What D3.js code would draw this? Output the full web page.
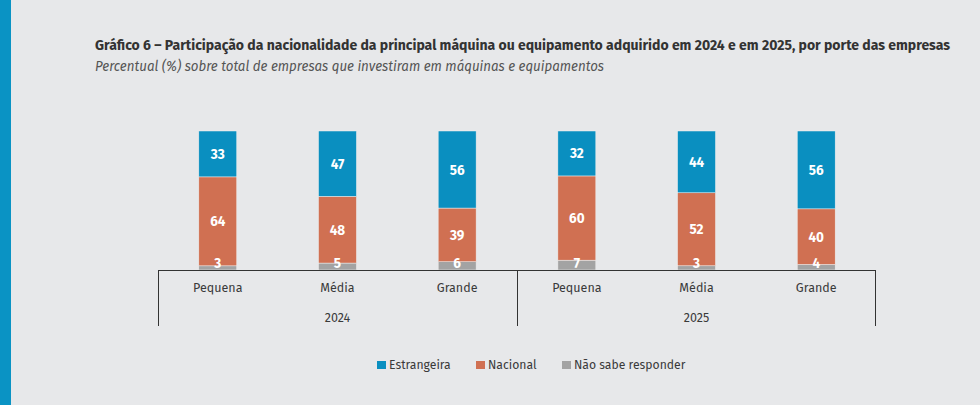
<!DOCTYPE html>
<html lang="pt">
<head>
    <meta charset="UTF-8">
    <title>Gráfico 6</title>
    <script src="https://d3js.org/d3.v7.min.js"></script>
    <style>
        body { margin: 0; background: #e7e8ea; }
        svg { display: block; font-family: "Fira Sans", "Open Sans", sans-serif; }
        .seg-label { fill: white; font-weight: 700; font-size: 13.5px; text-anchor: middle; }
        .cat-label { fill: #3a3a3a; font-size: 12.5px; text-anchor: middle; }
        .legend-label { fill: #3a3a3a; font-size: 12.2px; }
    </style>
</head>
<body>
<svg id="canvas" width="980" height="405"></svg>
<script>
    // data
    let years = ["2024", "2025"];
    let sizes = ["Pequena", "Média", "Grande"];
    let estrangeira = [33, 47, 56, 32, 44, 56];
    let nacional = [64, 48, 39, 60, 52, 40];
    let naoSabe = [3, 5, 6, 7, 3, 4];
    let seriesNames = ["Não sabe responder", "Nacional", "Estrangeira"];
    let colors = {"Estrangeira": "#0a8fc0", "Nacional": "#d07052", "Não sabe responder": "#a3a3a3"};

    let svg = d3.select("#canvas");

    // left accent strip
    svg.append("rect").attr("x", 0).attr("y", 0).attr("width", 11).attr("height", 405).attr("fill", "#0a93c4");

    svg.append("text")
        .attr("x", 95).attr("y", 50)
        .attr("textLength", 855).attr("lengthAdjust", "spacingAndGlyphs")
        .style("font-size", "14px").style("font-weight", 700).style("fill", "#333")
        .text("Gráfico 6 – Participação da nacionalidade da principal máquina ou equipamento adquirido em 2024 e em 2025, por porte das empresas");
    svg.append("text")
        .attr("x", 95).attr("y", 71)
        .attr("textLength", 509).attr("lengthAdjust", "spacingAndGlyphs")
        .style("font-size", "14px").style("font-style", "italic").style("fill", "#555")
        .text("Percentual (%) sobre total de empresas que investiram em máquinas e equipamentos");

    // build rows: one per bar
    let rows = [];
    years.forEach(function (y, yi) {
        sizes.forEach(function (s, si) {
            let i = yi * sizes.length + si;
            rows.push({key: y + "-" + s, year: y, size: s,
                "Estrangeira": estrangeira[i], "Nacional": nacional[i], "Não sabe responder": naoSabe[i]});
        });
    });

    let x = d3.scaleBand().domain(rows.map(d => d.key)).range([158, 876]).paddingInner(0.683).paddingOuter(0.341);
    let y = d3.scaleLinear().domain([0, 1]).range([270, 131]);

    // bars are drawn as share of 100% (values don't always add up exactly)
    let stack = d3.stack().keys(seriesNames).offset(d3.stackOffsetExpand)(rows);

    let g = svg.append("g");
    stack.forEach(function (layer) {
        g.append("g").selectAll("rect")
            .data(layer)
            .enter()
            .append("rect")
            .attr("x", d => x(d.data.key))
            .attr("width", x.bandwidth())
            .attr("y", d => y(d[1]))
            .attr("height", d => y(d[0]) - y(d[1]))
            .attr("fill", colors[layer.key])
            .attr("stroke", "#f0f0f0").attr("stroke-width", 0.5);
    });

    // axis frame
    let axis = svg.append("g").attr("stroke", "#333").attr("stroke-width", 1).attr("fill", "none");
    axis.append("line").attr("x1", 158).attr("x2", 876).attr("y1", 270.5).attr("y2", 270.5);
    [158.5, 517.5, 875.5].forEach(function (xv) {
        axis.append("line").attr("x1", xv).attr("x2", xv).attr("y1", 270).attr("y2", 326);
    });

    // labels on top of everything
    stack.forEach(function (layer) {
        g.append("g").selectAll("text")
            .data(layer)
            .enter()
            .append("text")
            .attr("class", "seg-label")
            .attr("x", d => x(d.data.key) + x.bandwidth() / 2)
            .attr("y", function (d) {
                let h = y(d[0]) - y(d[1]);
                if (h < 14) return y(d[0]) - 2;
                return (y(d[0]) + y(d[1])) / 2 + 5;
            })
            .text(d => d.data[layer.key]);
    });

    svg.selectAll("text.cat")
        .data(rows)
        .enter()
        .append("text")
        .attr("class", "cat-label cat")
        .attr("x", d => x(d.key) + x.bandwidth() / 2)
        .attr("y", 292)
        .text(d => d.size);

    years.forEach(function (yr) {
        let first = x(yr + "-" + sizes[0]), last = x(yr + "-" + sizes[sizes.length - 1]);
        svg.append("text")
            .attr("class", "cat-label")
            .attr("x", (first + last + x.bandwidth()) / 2)
            .attr("y", 322)
            .style("font-size", "12.5px")
            .text(yr);
    });

    // legend
    let legendX = [377, 476, 562];
    let legendNames = ["Estrangeira", "Nacional", "Não sabe responder"];
    let legend = svg.append("g");
    legendNames.forEach(function (n, i) {
        legend.append("rect").attr("x", legendX[i]).attr("y", 361).attr("width", 9).attr("height", 8).attr("fill", colors[n]);
        legend.append("text").attr("class", "legend-label").attr("x", legendX[i] + 12).attr("y", 369).text(n);
    });
</script>
</body>
</html>
